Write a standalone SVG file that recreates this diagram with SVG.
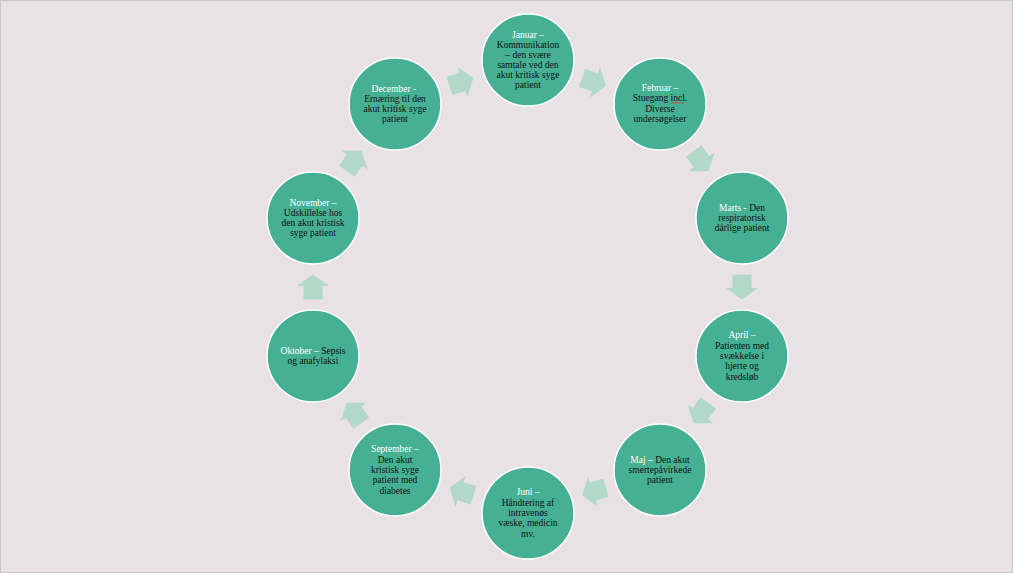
<svg xmlns="http://www.w3.org/2000/svg" xmlns:xlink="http://www.w3.org/1999/xlink" width="1013" height="573" viewBox="0 0 1013 573">
<style>
.c{fill:#46B094;stroke:#FFFFFF;stroke-width:1.5}
.t{font-family:"Liberation Serif","DejaVu Serif",serif;font-size:9.5px;fill:#111111;text-anchor:middle}
.w{fill:#FFFFFF}
.a{fill:#B2D8CA}
</style>
<defs>
<path id="arr" d="M-12.5,-9.5 H1 V-16 L12.5,0 L1,16 V9.5 H-12.5 Z"/>
</defs>
<rect x="0" y="0" width="1013" height="573" fill="#E8E2E4"/>
<rect x="0.5" y="0.5" width="1012" height="572" fill="none" stroke="#C9C6C7"/>
<g id="connectors" class="a">
<use xlink:href="#arr" transform="translate(461.5,82) rotate(-18.3)"/>
<use xlink:href="#arr" transform="translate(594,82) rotate(18.3)"/>
<use xlink:href="#arr" transform="translate(701,161) rotate(54.3)"/>
<use xlink:href="#arr" transform="translate(742,287) rotate(90)"/>
<use xlink:href="#arr" transform="translate(701,413) rotate(125.7)"/>
<use xlink:href="#arr" transform="translate(594,491.5) rotate(162)"/>
<use xlink:href="#arr" transform="translate(461.5,491.5) rotate(198)"/>
<use xlink:href="#arr" transform="translate(354,413) rotate(234.3)"/>
<use xlink:href="#arr" transform="translate(313,287) rotate(270)"/>
<use xlink:href="#arr" transform="translate(354,161) rotate(-54.3)"/>
</g>
<g id="januar">
<circle class="c" cx="528" cy="60" r="46"/>
<text class="t" x="528" y="37.5"><tspan class="w">Januar –</tspan><tspan x="528" dy="10">Kommunikation</tspan><tspan x="528" dy="10">– den svære</tspan><tspan x="528" dy="10">samtale ved den</tspan><tspan x="528" dy="10">akut kritisk syge</tspan><tspan x="528" dy="10">patient</tspan></text>
</g>
<g id="februar">
<circle class="c" cx="660" cy="104" r="46"/>
<text class="t" x="660" y="91"><tspan class="w">Februar –</tspan><tspan x="660" dy="10.3">Stuegang incl.</tspan><tspan x="660" dy="10.3">Diverse</tspan><tspan x="660" dy="10.3">undersøgelser</tspan></text>
<path d="M671,103.5 l1.5,-1.2 l1.5,1.2 l1.5,-1.2 l1.5,1.2 l1.5,-1.2 l1.5,1.2 l1.5,-1.2 l1.5,1.2 l1.5,-1.2" fill="none" stroke="#E03030" stroke-width="0.8"/>
</g>
<g id="marts">
<circle class="c" cx="742" cy="218" r="46"/>
<text class="t" x="742" y="210.5"><tspan class="w">Marts - </tspan>Den<tspan x="742" dy="10.3">respiratorisk</tspan><tspan x="742" dy="10.3">dårlige patient</tspan></text>
</g>
<g id="april">
<circle class="c" cx="742" cy="356" r="46"/>
<text class="t" x="742" y="338.4"><tspan class="w">April –</tspan><tspan x="742" dy="10.3">Patienten med</tspan><tspan x="742" dy="10.3">svækkelse i</tspan><tspan x="742" dy="10.3">hjerte og</tspan><tspan x="742" dy="10.3">kredsløb</tspan></text>
</g>
<g id="maj">
<circle class="c" cx="660" cy="470" r="46"/>
<text class="t" x="660" y="462.5"><tspan class="w">Maj – </tspan>Den akut<tspan x="660" dy="10.3">smertepåvirkede</tspan><tspan x="660" dy="10.3">patient</tspan></text>
</g>
<g id="juni">
<circle class="c" cx="528" cy="513" r="46"/>
<text class="t" x="528" y="495.4"><tspan class="w">Juni –</tspan><tspan x="528" dy="10.3">Håndtering af</tspan><tspan x="528" dy="10.3">intravenøs</tspan><tspan x="528" dy="10.3">væske, medicin</tspan><tspan x="528" dy="10.3">mv.</tspan></text>
</g>
<g id="september">
<circle class="c" cx="395" cy="470" r="46"/>
<text class="t" x="395" y="452.4"><tspan class="w">September –</tspan><tspan x="395" dy="10.3">Den akut</tspan><tspan x="395" dy="10.3">kristisk syge</tspan><tspan x="395" dy="10.3">patient med</tspan><tspan x="395" dy="10.3">diabetes</tspan></text>
</g>
<g id="oktober">
<circle class="c" cx="313" cy="356" r="46"/>
<text class="t" x="313" y="353.8"><tspan class="w">Oktober – </tspan>Sepsis<tspan x="313" dy="10.3">og anafylaksi</tspan></text>
</g>
<g id="november">
<circle class="c" cx="313" cy="218" r="46"/>
<text class="t" x="313" y="205.5"><tspan class="w">November –</tspan><tspan x="313" dy="10.3">Udskillelse hos</tspan><tspan x="313" dy="10.3">den akut kristisk</tspan><tspan x="313" dy="10.3">syge patient</tspan></text>
</g>
<g id="december">
<circle class="c" cx="395" cy="104" r="46"/>
<text class="t" x="395" y="91.5"><tspan class="w">December - </tspan><tspan x="395" dy="10.3">Ernæring til den</tspan><tspan x="395" dy="10.3">akut kritisk syge</tspan><tspan x="395" dy="10.3">patient</tspan></text>
</g>
</svg>
